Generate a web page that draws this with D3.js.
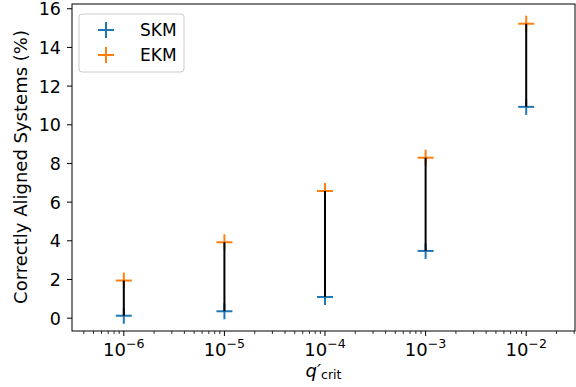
<!DOCTYPE html>
<html>
<head>
<meta charset="utf-8">
<script src="https://cdn.jsdelivr.net/npm/d3@7"></script>
<style>
  body { margin: 0; background: #fff; }
  svg { font-family: 'DejaVu Sans', sans-serif; }
</style>
</head>
<body>
<svg id="chart" width="576" height="387"></svg>
<script>
const qCrit = [1e-6, 1e-5, 1e-4, 1e-3, 1e-2]
const skm = [0.1, 0.33, 1.07, 3.45, 10.9]
const ekm = [1.92, 3.9, 6.55, 8.27, 15.2]
const yTicks = [0, 2, 4, 6, 8, 10, 12, 14, 16]

const margin = { top: 4, right: 1, bottom: 56, left: 72 }
const width = 576 - margin.left - margin.right
const height = 387 - margin.top - margin.bottom

const blue = '#1f77b4'
const orange = '#ff7f0e'

const svg = d3.select('#chart')
const g = svg.append('g').attr('transform', `translate(${margin.left},${margin.top})`)

const x = d3.scaleLog()
    .domain([Math.pow(10, -6.515), Math.pow(10, -1.515)])
    .range([0, width])
const y = d3.scaleLinear()
    .domain([-0.69, 16.22])
    .range([height, 0])

// y axis
const yAxis = d3.axisLeft(y).tickValues(yTicks).tickSize(5).tickPadding(6)
const yG = g.append('g').call(yAxis)
yG.select('.domain').remove()
yG.selectAll('text')
    .attr('font-family', 'DejaVu Sans, sans-serif')
    .attr('font-size', 17.5)
    .attr('dy', '0.37em')
    .attr('fill', '#000')

// x axis with minor ticks
const minor = []
for (let e = -7; e <= -1; e++) {
    for (let m = 2; m <= 9; m++) {
        const v = m * Math.pow(10, e)
        if (v >= x.domain()[0] && v <= x.domain()[1]) minor.push(v)
    }
}
g.append('g').attr('transform', `translate(0,${height})`)
    .selectAll('line').data(minor).join('line')
    .attr('x1', d => x(d)).attr('x2', d => x(d))
    .attr('y1', 0).attr('y2', 3)
    .attr('stroke', '#000').attr('stroke-width', 0.8)

const xAxis = g.append('g').attr('transform', `translate(0,${height})`)
xAxis.selectAll('line').data(qCrit).join('line')
    .attr('x1', d => x(d)).attr('x2', d => x(d))
    .attr('y1', 0).attr('y2', 5)
    .attr('stroke', '#000').attr('stroke-width', 1)
const xl = xAxis.selectAll('text').data(qCrit).join('text')
    .attr('x', d => x(d))
    .attr('y', 24.5)
    .attr('text-anchor', 'middle')
    .attr('font-size', 18)
xl.append('tspan').text('10')
xl.append('tspan').attr('dy', -8).attr('font-size', 12.6)
    .text(d => '\u2212' + Math.round(-Math.log10(d)))

// frame
g.append('rect')
    .attr('width', width).attr('height', height)
    .attr('fill', 'none').attr('stroke', '#000').attr('stroke-width', 1)

// markers
const plus = (data, color) => {
    const p = g.append('g').selectAll('g').data(data).join('g')
        .attr('transform', (d, i) => `translate(${x(qCrit[i])},${y(d)})`)
    p.append('line').attr('x1', -8).attr('x2', 8).attr('stroke', color).attr('stroke-width', 2)
    p.append('line').attr('y1', -8).attr('y2', 8).attr('stroke', color).attr('stroke-width', 2)
}
plus(skm, blue)
plus(ekm, orange)

// connecting lines
g.append('g').selectAll('line').data(qCrit).join('line')
    .attr('x1', d => x(d)).attr('x2', d => x(d))
    .attr('y1', (d, i) => y(skm[i])).attr('y2', (d, i) => y(ekm[i]))
    .attr('stroke', '#000').attr('stroke-width', 2)

// legend
const legend = g.append('g').attr('transform', 'translate(7,10)')
legend.append('rect')
    .attr('width', 105).attr('height', 58).attr('rx', 3)
    .attr('fill', '#fff').attr('fill-opacity', 0.8)
    .attr('stroke', '#ccc').attr('stroke-width', 1)
const items = [{ name: 'SKM', color: blue }, { name: 'EKM', color: orange }]
const li = legend.selectAll('.item').data(items).join('g')
    .attr('transform', (d, i) => `translate(27,${16 + i * 25})`)
li.append('line').attr('x1', -8).attr('x2', 8).attr('stroke', d => d.color).attr('stroke-width', 2)
li.append('line').attr('y1', -8).attr('y2', 8).attr('stroke', d => d.color).attr('stroke-width', 2)
li.append('text').attr('x', 34).attr('y', 6).attr('font-size', 17).text(d => d.name)

// axis labels
svg.append('text')
    .attr('transform', `translate(27,167) rotate(-90)`)
    .attr('text-anchor', 'middle')
    .attr('font-size', 18)
    .text('Correctly Aligned Systems (%)')

const xlab = svg.append('text')
    .attr('x', margin.left + width / 2)
    .attr('y', 377)
    .attr('text-anchor', 'middle')
    .attr('font-size', 18)
xlab.append('tspan').attr('font-style', 'italic').text('q\u2032')
xlab.append('tspan').attr('dy', 2).attr('font-size', 12.6).text('crit')
</script>
</body>
</html>
